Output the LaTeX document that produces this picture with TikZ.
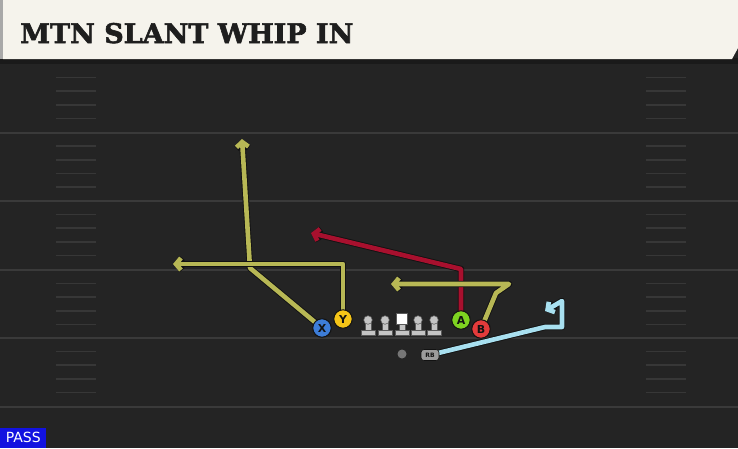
\documentclass[tikz,border=0pt]{standalone}
\usepackage{fontspec}
\setmainfont{DejaVu Sans}
\newfontfamily\titlefont[FakeBold=2.2]{DejaVu Serif Bold}
\usetikzlibrary{arrows.meta}
\definecolor{bgc}{HTML}{242424}
\definecolor{shadowc}{HTML}{1A1A1A}
\definecolor{creamc}{HTML}{F5F3EC}
\definecolor{edgec}{HTML}{A8A8A8}
\definecolor{yardc}{HTML}{3A3A3A}
\definecolor{outlc}{HTML}{121212}
\definecolor{olivec}{HTML}{B8B855}
\definecolor{crimc}{HTML}{A8102E}
\definecolor{skyc}{HTML}{A8E0F0}
\definecolor{xcol}{HTML}{3D7DD8}
\definecolor{ycol}{HTML}{F5C518}
\definecolor{acol}{HTML}{7ED321}
\definecolor{bcol}{HTML}{E33B3B}
\definecolor{linec}{HTML}{C4C4C4}
\definecolor{qbc}{HTML}{767676}
\definecolor{rbc}{HTML}{9C9C9C}
\definecolor{passc}{HTML}{1212E0}
\definecolor{titlec}{HTML}{1E1E1E}
\tikzset{
  yard/.style={draw=yardc, line width=2pt},
  hashm/.style={draw=yardc!85!bgc, line width=1.6pt},
  route/.style={draw=#1, line width=4.6pt, line join=round,
    preaction={draw=outlc, line width=6.4pt, line join=round}},
  tip/.style={-{Straight Barb[length=5pt,width=12pt]}},
  player/.style={circle, fill=#1, draw=outlc, line width=1pt, minimum size=18.5pt,
    inner sep=0pt, font=\bfseries\fontsize{11}{11}\selectfont, text=outlc},
  lineman/.style={fill=linec, draw=outlc!70, line width=0.5pt},
}
\begin{document}
\begin{tikzpicture}[x=1pt,y=-1pt]
\useasboundingbox (0,0) rectangle (738,448);
\fill[bgc] (0,0) rectangle (738,448);
% header
\fill[shadowc] (0,58) rectangle (738,64);
\fill[creamc] (3,0) -- (738,0) -- (738,48) -- (732,59) -- (3,59) -- cycle;
\fill[edgec] (0,0) rectangle (3,59);
\node[anchor=base west, inner sep=0pt, font=\titlefont\fontsize{27}{27}\selectfont, text=titlec] (title) at (20,43) {MTN SLANT WHIP IN};
% field lines
\foreach \yy in {132.5,201,270,338,407} {\draw[yard] (0,\yy) -- (738,\yy);}
\foreach \bb in {64,132.5,201,270,338} {
  \foreach \k in {1,2,3,4} {
    \draw[hashm] (56,\bb+\k*13.6) -- (96,\bb+\k*13.6);
    \draw[hashm] (646,\bb+\k*13.6) -- (686,\bb+\k*13.6);
  }
}
% players (coordinates)
\coordinate (Xp) at (322,328);
\coordinate (Yp) at (343,319);
\coordinate (Ap) at (461,320);
\coordinate (Bp) at (481,329);
\coordinate (RBp) at (430,355);
% route ends
\coordinate (xbend) at (250,268);
\coordinate (xend) at (242,139);
\coordinate (ybend) at (343,264);
\coordinate (yend) at (173,264);
\coordinate (abend) at (461,269);
\coordinate (aend) at (311,233);
\coordinate (bb1) at (496,293);
\coordinate (bb2) at (509,284);
\coordinate (bend) at (391,284);
\coordinate (rb1) at (545,327);
\coordinate (rb2) at (562,327);
\coordinate (rb3) at (562,301);
\coordinate (rbend) at (545,311);
% routes
\draw[route=olivec, tip] (Xp) -- (xbend) -- (xend);
\draw[route=olivec, tip] (Yp) -- (ybend) -- (yend);
\draw[route=crimc, tip] (Ap) -- (abend) -- (aend);
\draw[route=olivec, tip] (Bp) -- (bb1) -- (bb2) -- (bend);
\draw[route=skyc, tip] (RBp) -- (rb1) -- (rb2) -- (rb3) -- (rbend);
% linemen
\foreach \lx in {368,385,418,434} {
  \path[lineman] (\lx-3,321) rectangle (\lx+3,331);
  \path[lineman] (\lx-7,330) rectangle (\lx+7,335.5);
  \path[lineman] (\lx,320) circle (4.3);
}
\path[lineman] (399,322) rectangle (405,331);
\path[lineman] (395,330) rectangle (409,335.5);
\path[fill=white, draw=outlc!70, line width=0.5pt] (396.5,313.5) rectangle (407.5,324);
% QB and RB
\node[circle, fill=qbc, inner sep=0pt, minimum size=9pt] (QB) at (402,354) {};
\node[rounded corners=3pt, fill=rbc, draw=outlc, line width=0.6pt, minimum width=18pt, minimum height=11pt, inner sep=0pt, font=\bfseries\fontsize{6}{6}\selectfont, text=outlc] (RB) at (RBp) {RB};
% skill players
\node[player=xcol] (X) at (Xp) {X};
\node[player=ycol] (Y) at (Yp) {Y};
\node[player=acol] (A) at (Ap) {A};
\node[player=bcol] (B) at (Bp) {B};
% pass tag
\node[fill=passc, anchor=south west, minimum width=46pt, minimum height=20pt, inner sep=0pt, text=white, font=\fontsize{14}{14}\selectfont] (pass) at (0,448) {PASS};
\end{tikzpicture}
\end{document}
